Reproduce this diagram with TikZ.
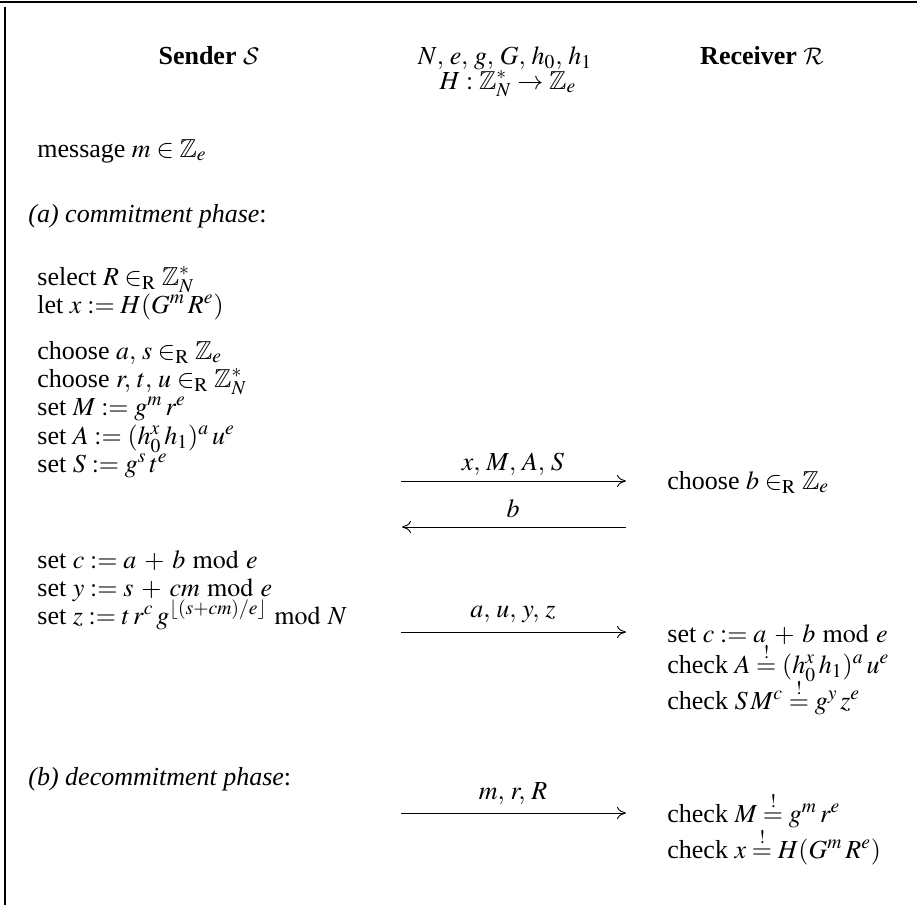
\documentclass[tikz,border=0pt]{standalone}
\usepackage{mathptmx}
\usepackage{amssymb}
\usepackage{fontspec}
\setmainfont{Liberation Serif}
\usetikzlibrary{arrows.meta}
\DeclareMathAlphabet{\mathcal}{OMS}{cmsy}{m}{n}
\DeclareMathSizes{13}{13}{9.8}{7.5}
\medmuskip=5.5mu plus 2mu minus 4mu
\newcommand\myfs{\fontsize{13}{15}\selectfont}
\newcommand\cm{,\,}
\tikzset{
  txt/.style={anchor=base west, inner sep=0pt, font=\myfs},
  ctr/.style={anchor=base, inner sep=0pt, font=\myfs},
  msg/.style={-{To[length=4.5pt,width=6pt]}, line width=0.45pt},
  lbl/.style={anchor=base, inner sep=0pt, font=\myfs},
  frame/.style={line width=1.4pt}
}
\begin{document}
\begin{tikzpicture}[x=0.5pt,y=-0.5pt]
\useasboundingbox (0,0) rectangle (917,905);
\coordinate (tl) at (0,2);
\coordinate (tr) at (917,2);
\coordinate (lt) at (5,7);
\coordinate (lb) at (5,905);
\draw[frame] (tl) -- (tr);
\draw[frame] (lt) -- (lb);

% header
\node[ctr] (snd) at (209,64) {\textbf{Sender} $\mathcal{S}$};
\node[ctr] (par1) at (505,64) {$N\cm e\cm g\cm G\cm h_0\cm h_1$};
\node[ctr] (par2) at (508,89) {$H:\mathbb{Z}_N^*\to\mathbb{Z}_e$};
\node[ctr] (rcv) at (762,64) {\textbf{Receiver} $\mathcal{R}$};

% sender column
\node[txt] (msg) at (37,157) {message $m\in\mathbb{Z}_e$};
\node[txt] (pa) at (28,222) {\textit{(a) commitment phase}:};
\node[txt] (s1) at (37,285) {select $R\in_{\mathrm{R}}\mathbb{Z}_N^*$};
\node[txt] (s2) at (37,313) {let $x:=H(G^m\,R^e)$};
\node[txt] (s3) at (37,359) {choose $a\cm s\in_{\mathrm{R}}\mathbb{Z}_e$};
\node[txt] (s4) at (37,387) {choose $r\cm t\cm u\in_{\mathrm{R}}\mathbb{Z}_N^*$};
\node[txt] (s5) at (37,415) {set $M:=g^m\,r^e$};
\node[txt] (s6) at (37,444) {set $A:=(h_0^x\,h_1)^a\,u^e$};
\node[txt] (s7) at (37,472) {set $S:=g^s\,t^e$};
\node[txt] (s8) at (37,568) {set $c:=a+b \bmod e$};
\node[txt] (s9) at (37,596) {set $y:=s+cm \bmod e$};
\node[txt] (s10) at (37,624) {set $z:=t\,r^c\,g^{\lfloor (s+cm)/e\rfloor} \bmod N$};
\node[txt] (pb) at (28,785) {\textit{(b) decommitment phase}:};

% receiver column
\node[txt] (r1) at (667,489) {choose $b\in_{\mathrm{R}}\mathbb{Z}_e$};
\node[txt] (r2) at (667,642) {set $c:=a+b \bmod e$};
\node[txt] (r3) at (667,673) {check $A\stackrel{!}{=}(h_0^x\,h_1)^a\,u^e$};
\node[txt] (r4) at (667,709) {check $S\,M^c\stackrel{!}{=}g^y\,z^e$};
\node[txt] (r5) at (667,822) {check $M\stackrel{!}{=}g^m\,r^e$};
\node[txt] (r6) at (667,858) {check $x\stackrel{!}{=}H(G^m\,R^e)$};

% messages
\coordinate (a1s) at (401,481);
\coordinate (a1e) at (626,481);
\draw[msg] (a1s) -- (a1e);
\node[lbl] (l1) at (513,470) {$x\cm M\cm A\cm S$};

\coordinate (a2s) at (626,527);
\coordinate (a2e) at (402,527);
\draw[msg] (a2s) -- (a2e);
\node[lbl] (l2) at (513,517) {$b$};

\coordinate (a3s) at (401,632);
\coordinate (a3e) at (626,632);
\draw[msg] (a3s) -- (a3e);
\node[lbl] (l3) at (513,617) {$a\cm u\cm y\cm z$};

\coordinate (a4s) at (401,813);
\coordinate (a4e) at (626,813);
\draw[msg] (a4s) -- (a4e);
\node[lbl] (l4) at (513,799) {$m\cm r\cm R$};
\end{tikzpicture}
\end{document}
